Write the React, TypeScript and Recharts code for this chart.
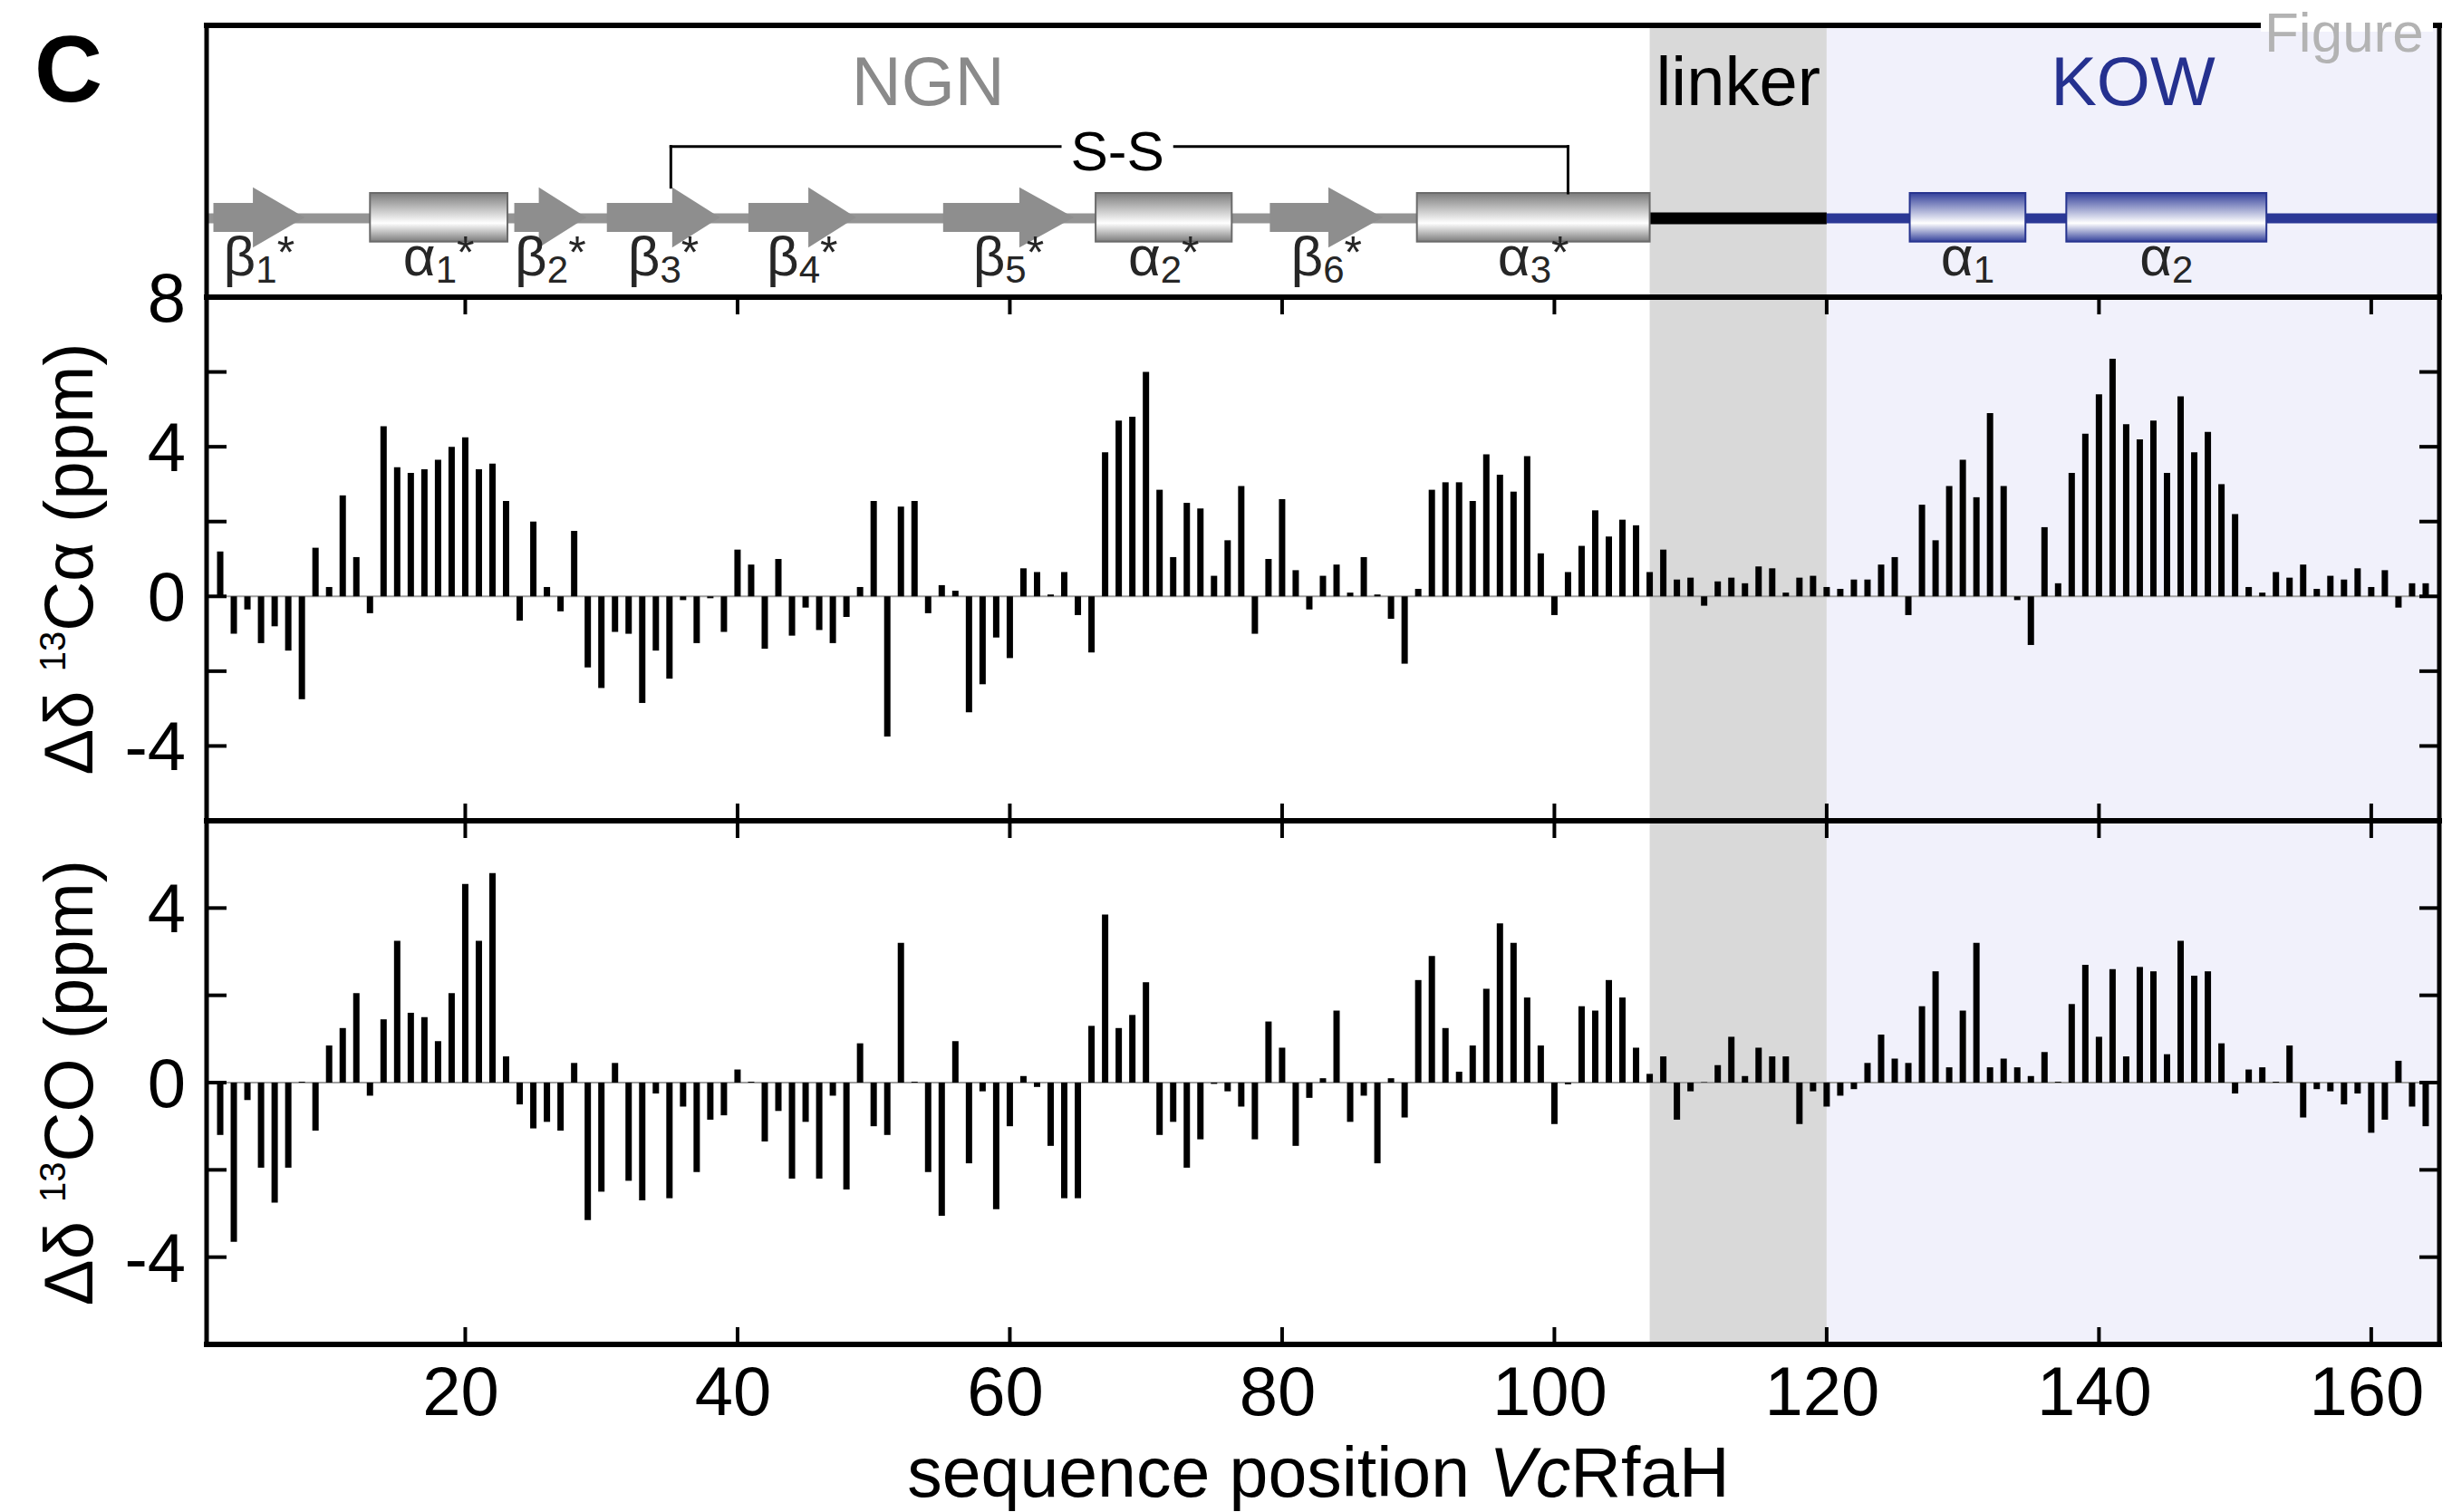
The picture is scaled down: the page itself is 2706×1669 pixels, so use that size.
import React from 'react';
import {
  ComposedChart,
  Bar,
  XAxis,
  YAxis,
  ReferenceArea,
  ReferenceLine,
} from 'recharts';

const W = 2706;
const H = 1669;
const FONT = "'Liberation Sans', Arial, Helvetica, sans-serif";

// secondary chemical shifts, residues 2..164
const firstResidue = 2;
const caShift = [
  1.2, -1.0, -0.35, -1.25, -0.8, -1.45, -2.75, 1.3, 0.25, 2.7,
  1.05, -0.45, 4.55, 3.45, 3.3, 3.4, 3.65, 4.0, 4.25, 3.4,
  3.55, 2.55, -0.65, 2.0, 0.25, -0.4, 1.75, -1.9, -2.45, -0.95,
  -1.0, -2.85, -1.45, -2.2, -0.1, -1.25, -0.05, -0.95, 1.25, 0.85,
  -1.4, 1.0, -1.05, -0.3, -0.9, -1.25, -0.55, 0.25, 2.55, -3.75,
  2.4, 2.55, -0.45, 0.3, 0.15, -3.1, -2.35, -1.1, -1.65, 0.75,
  0.65, 0.05, 0.65, -0.5, -1.5, 3.85, 4.7, 4.8, 6.0, 2.85,
  1.05, 2.5, 2.35, 0.55, 1.5, 2.95, -1.0, 1.0, 2.6, 0.7,
  -0.35, 0.55, 0.85, 0.1, 1.05, 0.05, -0.6, -1.8, 0.2, 2.85,
  3.05, 3.05, 2.55, 3.8, 3.25, 2.8, 3.75, 1.15, -0.5, 0.65,
  1.35, 2.3, 1.6, 2.05, 1.9, 0.65, 1.25, 0.45, 0.5, -0.25,
  0.4, 0.5, 0.35, 0.8, 0.75, 0.1, 0.5, 0.55, 0.25, 0.2,
  0.45, 0.45, 0.85, 1.05, -0.5, 2.45, 1.5, 2.95, 3.65, 2.65,
  4.9, 2.95, -0.1, -1.3, 1.85, 0.35, 3.3, 4.35, 5.4, 6.35,
  4.6, 4.2, 4.7, 3.3, 5.35, 3.85, 4.4, 3.0, 2.2, 0.25,
  0.1, 0.65, 0.5, 0.85, 0.2, 0.55, 0.45, 0.75, 0.25, 0.7,
  -0.3, 0.35, 0.35,
];
const coShift = [
  -1.2, -3.65, -0.4, -1.95, -2.75, -1.95, 0.02, -1.1, 0.85, 1.25,
  2.05, -0.3, 1.45, 3.25, 1.6, 1.5, 0.95, 2.05, 4.55, 3.25,
  4.8, 0.6, -0.5, -1.05, -0.9, -1.1, 0.45, -3.15, -2.5, 0.45,
  -2.25, -2.7, -0.25, -2.65, -0.55, -2.05, -0.85, -0.75, 0.3, 0.02,
  -1.35, -0.65, -2.2, -0.9, -2.2, -0.3, -2.45, 0.9, -1.0, -1.2,
  3.2, 0.02, -2.05, -3.05, 0.95, -1.85, -0.2, -2.9, -1.0, 0.15,
  -0.1, -1.45, -2.65, -2.65, 1.3, 3.85, 1.25, 1.55, 2.3, -1.2,
  -0.9, -1.95, -1.3, -0.03, -0.2, -0.55, -1.3, 1.4, 0.8, -1.45,
  -0.35, 0.1, 1.65, -0.9, -0.3, -1.85, 0.1, -0.8, 2.35, 2.9,
  1.25, 0.25, 0.85, 2.15, 3.65, 3.2, 1.95, 0.85, -0.95, -0.04,
  1.75, 1.65, 2.35, 1.95, 0.8, 0.2, 0.6, -0.85, -0.2, 0.01,
  0.4, 1.05, 0.15, 0.8, 0.6, 0.6, -0.95, -0.2, -0.55, -0.3,
  -0.15, 0.45, 1.1, 0.55, 0.45, 1.75, 2.55, 0.35, 1.65, 3.2,
  0.35, 0.55, 0.35, 0.15, 0.7, 0.02, 1.8, 2.7, 1.05, 2.6,
  0.6, 2.65, 2.55, 0.65, 3.25, 2.45, 2.55, 0.9, -0.25, 0.3,
  0.35, 0.02, 0.85, -0.8, -0.15, -0.2, -0.5, -0.25, -1.15, -0.85,
  0.5, -0.55, -1.0,
];

const xTicks = [20, 40, 60, 80, 100, 120, 140, 160];
const caTicks = [-4, -2, 0, 2, 4, 6, 8];
const coTicks = [-4, -2, 0, 2, 4];

// domains of the protein (residue numbers)
const ngnSpan = [1, 107];
const linkerSpan = [107, 120];
const kowSpan = [120, 165];

// secondary structure elements (residue numbers)
const strands = [
  { name: 'β', idx: '1', from: 1.5, head: 4.4, to: 8.2 },
  { name: 'β', idx: '2', from: 23.6, head: 25.4, to: 28.9 },
  { name: 'β', idx: '3', from: 30.4, head: 35.2, to: 38.7 },
  { name: 'β', idx: '4', from: 40.8, head: 45.2, to: 48.7 },
  { name: 'β', idx: '5', from: 55.1, head: 60.7, to: 64.7 },
  { name: 'β', idx: '6', from: 79.1, head: 83.4, to: 87.4 },
];
const ngnHelices = [
  { name: 'α', idx: '1', from: 13.0, to: 23.1 },
  { name: 'α', idx: '2', from: 66.3, to: 76.3 },
  { name: 'α', idx: '3', from: 89.9, to: 107.0 },
];
const kowHelices = [
  { name: 'α', idx: '1', from: 126.1, to: 134.6 },
  { name: 'α', idx: '2', from: 137.6, to: 152.3 },
];
const ssBond = { from: 35.1, to: 101.0, labelAt: 67.9 };

const caData = caShift.map((v, i) => ({ res: firstResidue + i, v }));
const coData = coShift.map((v, i) => ({ res: firstResidue + i, v }));

const xDomain = [ngnSpan[0], kowSpan[1]];

// header layout levels (header y units, 0 = bottom, 300 = top)
const LV = {
  headLo: 54.7,
  headHi: 121.3,
  cylLo: 61.3,
  cylHi: 115,
  backLo: 81.5,
  backHi: 92.5,
  labelBase: 24,
  ssLine: 166.3,
  ssText: 140,
  titleBase: 212,
};

const border = { stroke: '#000', strokeWidth: 5, strokeLinecap: 'square' as const };
const borderX = { stroke: '#000', strokeWidth: 6, strokeLinecap: 'square' as const };
const tickStroke = { stroke: '#000', strokeWidth: 4 };

function BottomTick(props: any) {
  const { x, y, payload, withLabel } = props;
  return (
    <g>
      <line x1={x} x2={x} y1={y} y2={y - 19} {...tickStroke} />
      {withLabel && (
        <text x={x - 5} y={y + 78} textAnchor="middle" fontSize={76} fontFamily={FONT} fill="#000">
          {payload.value}
        </text>
      )}
    </g>
  );
}

function TopTick(props: any) {
  const { x, y } = props;
  return <line x1={x} x2={x} y1={y} y2={y + 19} {...tickStroke} />;
}

function LeftTick(props: any) {
  const { x, y, payload } = props;
  return (
    <g>
      <line x1={x} x2={x + 22} y1={y} y2={y} {...tickStroke} />
      {payload.value % 4 === 0 && (
        <text x={x - 23} y={y + 27} textAnchor="end" fontSize={76} fontFamily={FONT} fill="#000">
          {payload.value}
        </text>
      )}
    </g>
  );
}

function RightTick(props: any) {
  const { x, y } = props;
  return <line x1={x} x2={x - 22} y1={y} y2={y} {...tickStroke} />;
}

function YTitle(props: any) {
  const { viewBox, tail } = props;
  const cx = viewBox.x + 102;
  const cy = viewBox.y + viewBox.height / 2;
  return (
    <text
      x={cx}
      y={cy}
      transform={`rotate(-90 ${cx} ${cy})`}
      textAnchor="middle"
      fontSize={76}
      fontFamily={FONT}
      fill="#000"
    >
      {'Δδ '}
      <tspan fontSize={40} dy={-30}>13</tspan>
      <tspan dy={30}>{tail}</tspan>
    </text>
  );
}

function XTitle(props: any) {
  const { viewBox } = props;
  return (
    <text
      x={viewBox.x + viewBox.width / 2 - 5}
      y={viewBox.y + 168}
      textAnchor="middle"
      fontSize={77}
      fontFamily={FONT}
      fill="#000"
    >
      {'sequence position '}
      <tspan fontStyle="italic">Vc</tspan>
      RfaH
    </text>
  );
}

function PanelLetter(props: any) {
  const { viewBox } = props;
  return (
    <text x={viewBox.x + 38} y={viewBox.y + 84} fontSize={104} fontWeight="bold" fontFamily={FONT} fill="#000">
      C
    </text>
  );
}

function Watermark(props: any) {
  const { viewBox } = props;
  return (
    <g>
      <rect x={viewBox.x - 197} y={viewBox.y - 8} width={190} height={15} fill="#fff" />
      <text x={viewBox.x - 193} y={viewBox.y + 29} fontSize={62} fontFamily={FONT} fill="#b3b3b3">
        Figure
      </text>
    </g>
  );
}

const titleLabel = (text: string, color: string) => (props: any) => {
  const vb = props.viewBox;
  if (!vb) return null;
  const unit = vb.height / 300;
  return (
    <text
      x={vb.x + vb.width / 2}
      y={vb.y + (300 - LV.titleBase) * unit}
      textAnchor="middle"
      fontSize={76}
      fontFamily={FONT}
      fill={color}
    >
      {text}
    </text>
  );
};

const structLabel = (name: string, idx: string, lo: number, hi: number, star: boolean) => (props: any) => {
  const vb = props.viewBox;
  if (!vb) return null;
  const unit = vb.height / (hi - lo);
  const base = vb.y + vb.height + (lo - LV.labelBase) * unit;
  return (
    <text x={vb.x + vb.width / 2} y={base} textAnchor="middle" fontSize={62} fontFamily={FONT} fill="#262626">
      {name}
      <tspan fontSize={42} dy={8}>{idx}</tspan>
      {star && <tspan fontSize={50} dy={-16}>*</tspan>}
    </text>
  );
};

const ssLabel = (props: any) => {
  const vb = props.viewBox;
  if (!vb) return null;
  return (
    <text x={vb.x + vb.width / 2} y={vb.y + vb.height} textAnchor="middle" fontSize={62} fontFamily={FONT} fill="#000">
      S-S
    </text>
  );
};

const strandShape = (s: any) => (p: any) => {
  const { x, y, width, height } = p;
  const xh = x + (width * (s.head - s.from)) / (s.to - s.from);
  const x1 = x + width;
  const t = y + height * 0.26;
  const b = y + height * 0.74;
  const pts = [
    [x, t], [xh, t], [xh, y], [x1, y + height / 2], [xh, y + height], [xh, b], [x, b],
  ];
  return <polygon points={pts.map((q) => q.join(',')).join(' ')} fill="#8e8e8e" />;
};

const helixShape = (id: string, dark: string, edge: string) => (p: any) => {
  const { x, y, width, height } = p;
  return (
    <g>
      <defs>
        <linearGradient id={id} x1="0" y1="0" x2="0" y2="1">
          <stop offset="0" stopColor={dark} />
          <stop offset="0.62" stopColor="#ffffff" />
          <stop offset="1" stopColor={dark} />
        </linearGradient>
      </defs>
      <rect x={x} y={y} width={width} height={height} fill={`url(#${id})`} stroke={edge} strokeWidth={2} />
    </g>
  );
};

function Header() {
  const ssGap = 4.2;
  return (
    <ComposedChart width={W} height={H} data={caData} margin={{ top: 27, right: 0, bottom: H - 329, left: 0 }}>
      <ReferenceArea x1={linkerSpan[0]} x2={linkerSpan[1]} fill="#d9d9d9" fillOpacity={1} label={titleLabel('linker', '#000')} />
      <ReferenceArea x1={kowSpan[0]} x2={kowSpan[1]} fill="#f1f1fb" fillOpacity={1} label={titleLabel('KOW', '#25318f')} />
      <ReferenceArea x1={ngnSpan[0]} x2={ngnSpan[1]} fill="none" label={titleLabel('NGN', '#8a8a8a')} />

      <ReferenceArea x1={ngnSpan[0]} x2={ngnSpan[1]} y1={LV.backLo} y2={LV.backHi} fill="#949494" fillOpacity={1} />
      <ReferenceArea x1={linkerSpan[0]} x2={linkerSpan[1]} y1={LV.backLo - 1} y2={LV.backHi + 1} fill="#000" fillOpacity={1} />
      <ReferenceArea x1={kowSpan[0]} x2={kowSpan[1]} y1={LV.backLo} y2={LV.backHi} fill="#2b3896" fillOpacity={1} />

      {strands.map((s) => (
        <ReferenceArea
          key={'b' + s.idx}
          x1={s.from}
          x2={s.to}
          y1={LV.headLo}
          y2={LV.headHi}
          shape={strandShape(s)}
          label={structLabel(s.name, s.idx, LV.headLo, LV.headHi, true)}
        />
      ))}
      {ngnHelices.map((h) => (
        <ReferenceArea
          key={'na' + h.idx}
          x1={h.from}
          x2={h.to}
          y1={LV.cylLo}
          y2={LV.cylHi}
          shape={helixShape('ngnCyl' + h.idx, '#7c7c7c', '#6a6a6a')}
          label={structLabel(h.name, h.idx, LV.cylLo, LV.cylHi, true)}
        />
      ))}
      {kowHelices.map((h) => (
        <ReferenceArea
          key={'ka' + h.idx}
          x1={h.from}
          x2={h.to}
          y1={LV.cylLo}
          y2={LV.cylHi}
          shape={helixShape('kowCyl' + h.idx, '#34419b', '#27348f')}
          label={structLabel(h.name, h.idx, LV.cylLo, LV.cylHi, false)}
        />
      ))}

      <ReferenceLine segment={[{ x: ssBond.from, y: LV.headHi }, { x: ssBond.from, y: LV.ssLine }]} stroke="#000" strokeWidth={3} strokeLinecap="square" />
      <ReferenceLine segment={[{ x: ssBond.from, y: LV.ssLine }, { x: ssBond.labelAt - ssGap, y: LV.ssLine }]} stroke="#000" strokeWidth={3} strokeLinecap="square" />
      <ReferenceLine segment={[{ x: ssBond.labelAt + ssGap, y: LV.ssLine }, { x: ssBond.to, y: LV.ssLine }]} stroke="#000" strokeWidth={3} strokeLinecap="square" />
      <ReferenceLine segment={[{ x: ssBond.to, y: LV.ssLine }, { x: ssBond.to, y: LV.cylHi }]} stroke="#000" strokeWidth={3} strokeLinecap="square" />
      <ReferenceArea x1={ssBond.labelAt - 3.6} x2={ssBond.labelAt + 3.6} y1={LV.ssText} y2={LV.ssText + 43} fill="none" label={ssLabel} />

      <XAxis dataKey="res" type="number" domain={xDomain} allowDataOverflow height={1} tick={false} axisLine={borderX} tickLine={false} />
      <XAxis xAxisId="t" orientation="top" dataKey="res" type="number" domain={xDomain} allowDataOverflow height={1} tick={false} axisLine={borderX} tickLine={false} />
      <YAxis type="number" domain={[0, 300]} allowDataOverflow width={228} tick={false} axisLine={border} tickLine={false} label={<PanelLetter />} />
      <YAxis yAxisId="r" orientation="right" type="number" domain={[0, 300]} allowDataOverflow width={14} tick={false} axisLine={border} tickLine={false} label={<Watermark />} />
    </ComposedChart>
  );
}

function ShiftPanel(props: any) {
  const { data, domain, ticks, top, bottom, showX, tail } = props;
  return (
    <ComposedChart width={W} height={H} data={data} margin={{ top: top - 1, right: 0, bottom: H - bottom - 1, left: 0 }}>
      <ReferenceArea x1={linkerSpan[0]} x2={linkerSpan[1]} yAxisId="l" fill="#d9d9d9" fillOpacity={1} />
      <ReferenceArea x1={kowSpan[0]} x2={kowSpan[1]} yAxisId="l" fill="#f1f1fb" fillOpacity={1} />
      <ReferenceLine y={0} yAxisId="l" stroke="#a0a0a0" strokeWidth={2} zIndex={250} />
      <Bar dataKey="v" yAxisId="l" fill="#000" barSize={7} isAnimationActive={false} />

      <XAxis
        dataKey="res"
        type="number"
        domain={xDomain}
        allowDataOverflow
        ticks={xTicks}
        interval={0}
        height={1}
        tickSize={0}
        tickMargin={0}
        tickLine={false}
        axisLine={borderX}
        tick={<BottomTick withLabel={showX} />}
        label={showX ? <XTitle /> : undefined}
      />
      <XAxis
        xAxisId="t"
        orientation="top"
        dataKey="res"
        type="number"
        domain={xDomain}
        allowDataOverflow
        ticks={xTicks}
        interval={0}
        height={1}
        tickSize={0}
        tickMargin={0}
        tickLine={false}
        axisLine={borderX}
        tick={<TopTick />}
      />
      <YAxis
        yAxisId="l"
        type="number"
        domain={domain}
        allowDataOverflow
        ticks={ticks}
        interval={0}
        width={228}
        tickSize={0}
        tickMargin={0}
        tickLine={false}
        axisLine={border}
        tick={<LeftTick />}
        label={<YTitle tail={tail} />}
      />
      <YAxis
        yAxisId="r"
        orientation="right"
        type="number"
        domain={domain}
        allowDataOverflow
        ticks={ticks}
        interval={0}
        width={14}
        tickSize={0}
        tickMargin={0}
        tickLine={false}
        axisLine={border}
        tick={<RightTick />}
      />
    </ComposedChart>
  );
}

const layer: React.CSSProperties = { position: 'absolute', left: 0, top: 0 };

export default function App() {
  return (
    <div style={{ position: 'absolute', left: 0, top: 0, width: W, height: H, background: '#fff', overflow: 'hidden' }}>
      <div style={layer}>
        <Header />
      </div>
      <div style={layer}>
        <ShiftPanel data={caData} domain={[-6, 8]} ticks={caTicks} top={328} bottom={906} showX={false} tail="Cα (ppm)" />
      </div>
      <div style={layer}>
        <ShiftPanel data={coData} domain={[-6, 6]} ticks={coTicks} top={906} bottom={1484} showX={true} tail="CO (ppm)" />
      </div>
    </div>
  );
}
